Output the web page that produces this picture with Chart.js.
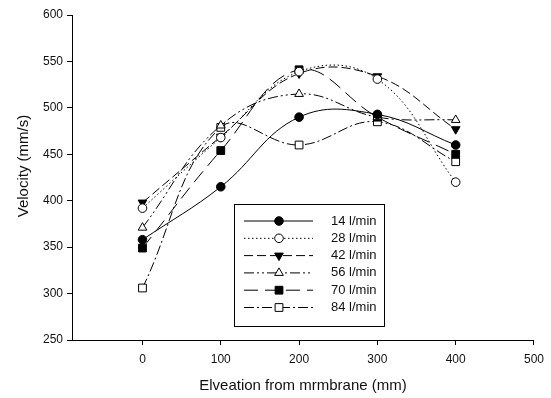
<!DOCTYPE html>
<html>
<head>
<meta charset="utf-8">
<script src="https://cdn.jsdelivr.net/npm/chart.js@4.4.0/dist/chart.umd.min.js"></script>
<style>
  html, body { margin: 0; padding: 0; background: #fff; }
  #wrap { width: 551px; height: 398px; }
</style>
</head>
<body>
<div id="wrap"><canvas id="c" width="551" height="398"></canvas></div>
<script>
const elevations = [0, 100, 200, 300, 400];
const xTicks = [0, 100, 200, 300, 400, 500];
const seriesLabels = ['14 l/min', '28 l/min', '42 l/min', '56 l/min', '70 l/min', '84 l/min'];
const v14 = [358, 415, 490, 493, 460];
const v28 = [392, 468, 539, 531, 420];
const v42 = [398, 469, 537, 534, 477];
const v56 = [371, 481, 515, 490, 487];
const v70 = [349, 454, 541, 490, 450];
const v84 = [306, 479, 460, 485, 442];
const seriesValues = [v14, v28, v42, v56, v70, v84];

const styles = [
  { dash: [], pointStyle: 'circle', radius: 4.3, fill: '#000', rot: 0 },
  { dash: [1.5, 2.5], pointStyle: 'circle', radius: 4.3, fill: '#fff', rot: 0 },
  { dash: [9, 4], pointStyle: 'triangle', radius: 5, fill: '#000', rot: 180 },
  { dash: [10, 3, 2, 3, 2, 3], pointStyle: 'triangle', radius: 5, fill: '#fff', rot: 0 },
  { dash: [14, 7], pointStyle: 'rect', radius: 5.5, fill: '#000', rot: 0 },
  { dash: [10, 3, 2, 3], pointStyle: 'rect', radius: 5.5, fill: '#fff', rot: 0 }
];

const datasets = seriesValues.map((vals, i) => ({
  label: seriesLabels[i],
  data: elevations.map((x, j) => ({ x: x, y: vals[j] })),
  borderColor: '#000',
  borderWidth: 1,
  borderDash: styles[i].dash,
  tension: 0.4,
  fill: false,
  pointStyle: styles[i].pointStyle,
  pointRadius: styles[i].radius,
  pointRotation: styles[i].rot,
  pointBackgroundColor: styles[i].fill,
  pointBorderColor: '#000',
  pointBorderWidth: 1,
  pointHoverRadius: styles[i].radius
}));

const FONT = '"Liberation Sans", Arial, sans-serif';

const extras = {
  id: 'extras',
  afterDatasetsDraw(chart) {
    const ctx = chart.ctx;
    ctx.save();
    // legend box
    ctx.fillStyle = '#fff';
    ctx.fillRect(234.5, 204.5, 150, 122);
    ctx.strokeStyle = '#000';
    ctx.lineWidth = 1;
    ctx.setLineDash([]);
    ctx.strokeRect(234.5, 204.5, 150, 122);
    chart.data.datasets.forEach((ds, i) => {
      const y = 221 + i * 17.3;
      ctx.strokeStyle = '#000';
      ctx.lineWidth = 1;
      ctx.setLineDash(ds.borderDash);
      ctx.beginPath();
      ctx.moveTo(244, y);
      ctx.lineTo(313, y);
      ctx.stroke();
      ctx.setLineDash([]);
      ctx.fillStyle = ds.pointBackgroundColor;
      ctx.strokeStyle = '#000';
      Chart.helpers.drawPoint(ctx, {
        pointStyle: ds.pointStyle,
        radius: ds.pointRadius,
        rotation: ds.pointRotation,
        borderWidth: 1
      }, 279, y);
      ctx.fillStyle = '#111';
      ctx.font = '13px ' + FONT;
      ctx.textAlign = 'left';
      ctx.textBaseline = 'middle';
      ctx.fillText(ds.label, 331, y);
    });
    // y axis title
    ctx.translate(24, 166);
    ctx.rotate(-Math.PI / 2);
    ctx.font = '15px ' + FONT;
    ctx.textAlign = 'center';
    ctx.textBaseline = 'middle';
    ctx.fillStyle = '#111';
    ctx.fillText('Velocity (mm/s)', 0, 0);
    ctx.restore();
  }
};

new Chart(document.getElementById('c'), {
  type: 'line',
  data: { datasets: datasets },
  options: {
    responsive: false,
    animation: false,
    events: [],
    layout: { padding: { left: 0, right: 15, top: 15, bottom: 0 } },
    plugins: { legend: { display: false }, tooltip: { enabled: false } },
    scales: {
      x: {
        type: 'linear',
        min: -90,
        max: 500,
        afterBuildTicks(scale) { scale.ticks = xTicks.map(v => ({ value: v })); },
        afterFit(scale) { scale.height = 58; },
        grid: { display: true, drawOnChartArea: false, drawTicks: true, tickLength: 5, color: '#000' },
        border: { display: true, color: '#000', width: 1 },
        ticks: { color: '#111', font: { family: FONT, size: 12 }, padding: 7, maxRotation: 0, autoSkip: false },
        title: { display: true, text: 'Elveation from mrmbrane (mm)', color: '#111', font: { family: FONT, size: 15 }, padding: { top: 0, bottom: 3 } }
      },
      y: {
        type: 'linear',
        min: 250,
        max: 600,
        afterFit(scale) { scale.width = 72; },
        grid: { display: true, drawOnChartArea: false, drawTicks: true, tickLength: 5, color: '#000' },
        border: { display: true, color: '#000', width: 1 },
        ticks: { stepSize: 50, color: '#111', font: { family: FONT, size: 12 }, padding: 4 }
      }
    }
  },
  plugins: [extras]
});
</script>
</body>
</html>
